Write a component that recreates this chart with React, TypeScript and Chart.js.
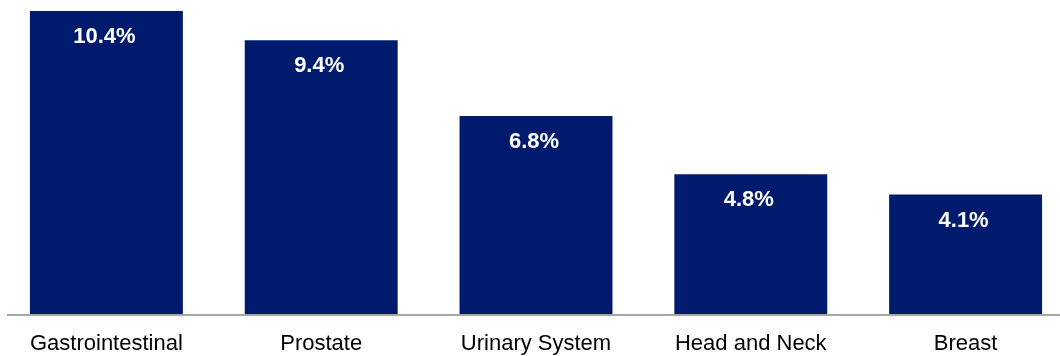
import React, { useEffect, useRef } from "react";
import { Chart, registerables } from "chart.js";

Chart.register(...registerables);

const categories: string[] = [
  "Gastrointestinal",
  "Prostate",
  "Urinary System",
  "Head and Neck",
  "Breast",
];
const shares: number[] = [10.4, 9.4, 6.8, 4.8, 4.1];

const BAR_COLOR = "#001B6D";
const AXIS_COLOR = "#A6A6A6";
const FONT = '"Liberation Sans", Arial, Helvetica, sans-serif';

// Baseline drawn as a plain grey rule under the bars
const baselinePlugin = {
  id: "baseline",
  afterDatasetsDraw(chart: any) {
    const { ctx, chartArea, scales } = chart;
    const y = scales.y.getPixelForValue(0);
    ctx.save();
    ctx.strokeStyle = AXIS_COLOR;
    ctx.lineWidth = 2;
    ctx.beginPath();
    ctx.moveTo(8, y + 1);
    ctx.lineTo(chartArea.right, y + 1);
    ctx.stroke();
    ctx.restore();
  },
};

// Percentage labels inside the top of each bar
const valueLabelPlugin = {
  id: "valueLabels",
  afterDatasetsDraw(chart: any) {
    const { ctx } = chart;
    const meta = chart.getDatasetMeta(0);
    const data = chart.data.datasets[0].data as number[];
    ctx.save();
    ctx.fillStyle = "#FFFFFF";
    ctx.font = `bold 22px ${FONT}`;
    ctx.textAlign = "center";
    ctx.textBaseline = "middle";
    meta.data.forEach((bar: any, i: number) => {
      ctx.fillText(`${data[i].toFixed(1)}%`, bar.x - 2, bar.y + 26);
    });
    ctx.restore();
  },
};

export default function App() {
  const canvasRef = useRef<HTMLCanvasElement | null>(null);

  useEffect(() => {
    if (!canvasRef.current) return;
    const chart = new Chart(canvasRef.current, {
      type: "bar",
      data: {
        labels: categories,
        datasets: [
          {
            data: shares,
            backgroundColor: BAR_COLOR,
            borderWidth: 0,
            categoryPercentage: 1,
            barPercentage: 0.712,
          },
        ],
      },
      options: {
        animation: false,
        responsive: false,
        maintainAspectRatio: false,
        layout: { padding: 0 },
        plugins: {
          legend: { display: false },
          tooltip: { enabled: false },
          title: { display: false },
        },
        scales: {
          x: {
            offset: true,
            grid: { display: false, drawTicks: false },
            border: { display: false },
            ticks: {
              color: "#000000",
              font: { family: FONT, size: 22 },
              padding: 17,
              maxRotation: 0,
              autoSkip: false,
            },
            afterFit(scale: any) {
              scale.height = 42;
            },
          },
          y: {
            display: false,
            min: 0,
            max: 10.78,
          },
        },
      },
      plugins: [baselinePlugin, valueLabelPlugin],
    });
    return () => chart.destroy();
  }, []);

  return (
    <div
      style={{
        position: "fixed",
        left: 0,
        top: 0,
        width: 1060,
        height: 356,
        overflow: "hidden",
        background: "#FFFFFF",
      }}
    >
      <canvas
        ref={canvasRef}
        width={1074}
        height={356}
        style={{
          display: "block",
          position: "absolute",
          left: -1,
          top: 0,
          width: 1074,
          height: 356,
        }}
      />
    </div>
  );
}
